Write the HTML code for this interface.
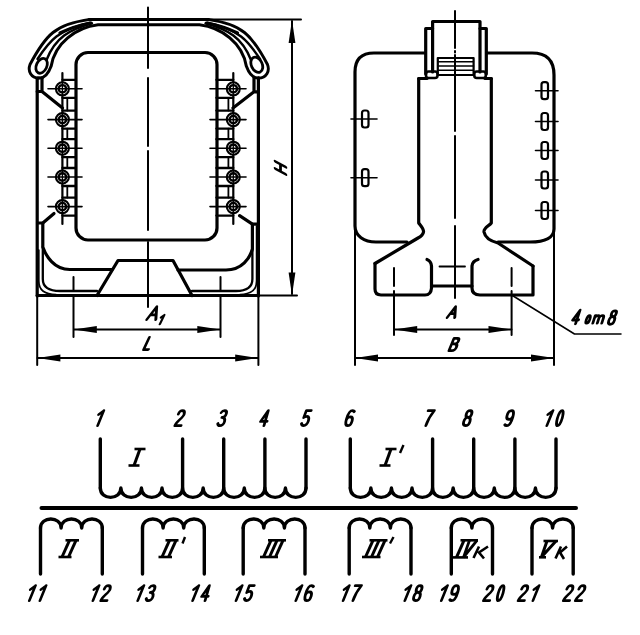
<!DOCTYPE html>
<html><head><meta charset="utf-8"><style>
html,body{margin:0;padding:0;background:#fff;}
svg{display:block;}
text{font-family:"Liberation Sans",sans-serif;font-style:italic;font-weight:bold;font-size:24px;text-anchor:middle;fill:#000;}
</style></head><body>
<svg width="640" height="635" viewBox="0 0 640 635">
<g fill="none" stroke="#000" stroke-linecap="round" stroke-linejoin="round">
<path d="M37.2,78 V296" stroke-width="3.2" />
<path d="M37.2,296 V365" stroke-width="2.0" />
<path d="M258.4,78 V296" stroke-width="3.2" />
<path d="M258.4,296 V365" stroke-width="2.0" />
<path d="M37.2,295.5 H258" stroke-width="3.2" />
<path d="M258,295.5 H297" stroke-width="2.0" />
<path d="M200,19.4 H301" stroke-width="2.0" />
<path d="M292,21 V294" stroke-width="2.0" />
<path d="M292.0,20.0 L288.6,43.0 L295.4,43.0Z" fill="#000" stroke="none"/>
<path d="M292.0,295.5 L295.4,272.5 L288.6,272.5Z" fill="#000" stroke="none"/>
<path d="M148,7.5 V68 M148,78 V146 M148,151 V230 M148,242 V307" stroke-width="2.0" />
<rect x="76" y="52.5" width="141" height="187.5" rx="12" stroke-width="3.2"/>
<path d="M38.9,78 C31,78 27.5,71 30,64.5 C45.8,34.6 55.6,24.1 90,19.4" stroke-width="2.9"/>
<path d="M 258.6 78.0 C 266.5 78.0 270.0 71.0 267.5 64.5 C 251.7 34.6 241.9 24.1 207.5 19.4" stroke-width="2.9"/>
<path d="M89,19.4 H148.5" stroke-width="3"/>
<path d="M 208.5 19.4 H 149.0" stroke-width="3"/>
<path d="M38.9,78 C45,78.5 49,72 51.2,66 C55,43.1 75.8,27.6 98,24.8 H148.5" stroke-width="3"/>
<path d="M 258.6 78.0 C 252.5 78.5 248.5 72.0 246.3 66.0 C 242.5 43.1 221.7 27.6 199.5 24.8 H 149.0" stroke-width="3"/>
<path d="M37.5,59 C50,40 58,30 90,22.6" stroke-width="2.4"/>
<path d="M 260.0 59.0 C 247.5 40.0 239.5 30.0 207.5 22.6" stroke-width="2.4"/>
<path d="M46.5,60 C55.4,37.3 69.5,29.6 92,23.4" stroke-width="2.4"/>
<path d="M 251.0 60.0 C 242.1 37.3 228.0 29.6 205.5 23.4" stroke-width="2.4"/>
<path d="M60,33 C70,28 80,25 91,23" stroke-width="3.2"/>
<path d="M 237.5 33.0 C 227.5 28.0 217.5 25.0 206.5 23.0" stroke-width="3.2"/>
<ellipse cx="41.6" cy="65.8" rx="5.2" ry="7.8" transform="rotate(25 41.6 65.8)" stroke-width="2.8" fill="#fff"/>
<ellipse cx="256.8" cy="64.8" rx="5.4" ry="8" transform="rotate(-25 256.8 64.8)" stroke-width="2.8" fill="#fff"/>
<path d="M42,78 V91.5 L62.5,108 M42,91.5 H37.2" stroke-width="3.2" />
<path d="M254,78 V91.8 L233,108 M254,91.8 H258.4" stroke-width="3.2" />
<path d="M54,213.5 L42.8,223 H37.5" stroke-width="3.2" />
<path d="M239.6,215.7 L252.4,224.2 H258" stroke-width="3.2" />
<path d="M62.4,73 V224" stroke-width="2.2" />
<path d="M62.4,97.8 H75.8 M62.4,110.6 H75.8" stroke-width="2.3" />
<path d="M67.3,97.8 V110.6" stroke-width="1.8" />
<path d="M62.4,128.6 H75.8 M62.4,139.2 H75.8" stroke-width="2.3" />
<path d="M67.3,128.6 V139.2" stroke-width="1.8" />
<path d="M62.4,157.2 H75.8 M62.4,168 H75.8" stroke-width="2.3" />
<path d="M67.3,157.2 V168" stroke-width="1.8" />
<path d="M62.4,186 H75.8 M62.4,197.6 H75.8" stroke-width="2.3" />
<path d="M67.3,186 V197.6" stroke-width="1.8" />
<path d="M62.4,79.8 H75.8" stroke-width="2.3" />
<path d="M62.4,215.6 H75.8" stroke-width="2.3" />
<circle cx="62.4" cy="88.8" r="6.5" stroke-width="2.1" fill="#fff"/>
<circle cx="62.4" cy="88.8" r="3.7" stroke-width="2.4"/>
<path d="M62.4,81.8 V95.8" stroke-width="1.3" />
<circle cx="62.4" cy="119.6" r="6.5" stroke-width="2.1" fill="#fff"/>
<circle cx="62.4" cy="119.6" r="3.7" stroke-width="2.4"/>
<path d="M62.4,112.6 V126.6" stroke-width="1.3" />
<circle cx="62.4" cy="148.2" r="6.5" stroke-width="2.1" fill="#fff"/>
<circle cx="62.4" cy="148.2" r="3.7" stroke-width="2.4"/>
<path d="M62.4,141.2 V155.2" stroke-width="1.3" />
<circle cx="62.4" cy="177" r="6.5" stroke-width="2.1" fill="#fff"/>
<circle cx="62.4" cy="177" r="3.7" stroke-width="2.4"/>
<path d="M62.4,170 V184" stroke-width="1.3" />
<circle cx="62.4" cy="206.6" r="6.5" stroke-width="2.1" fill="#fff"/>
<circle cx="62.4" cy="206.6" r="3.7" stroke-width="2.4"/>
<path d="M62.4,199.6 V213.6" stroke-width="1.3" />
<path d="M233.3,73 V224" stroke-width="2.2" />
<path d="M233.3,97.8 H216.4 M233.3,110.6 H216.4" stroke-width="2.3" />
<path d="M228.4,97.8 V110.6" stroke-width="1.8" />
<path d="M233.3,128.6 H216.4 M233.3,139.2 H216.4" stroke-width="2.3" />
<path d="M228.4,128.6 V139.2" stroke-width="1.8" />
<path d="M233.3,157.2 H216.4 M233.3,168 H216.4" stroke-width="2.3" />
<path d="M228.4,157.2 V168" stroke-width="1.8" />
<path d="M233.3,186 H216.4 M233.3,197.6 H216.4" stroke-width="2.3" />
<path d="M228.4,186 V197.6" stroke-width="1.8" />
<path d="M233.3,79.8 H216.4" stroke-width="2.3" />
<path d="M233.3,215.6 H216.4" stroke-width="2.3" />
<circle cx="233.3" cy="88.8" r="6.5" stroke-width="2.1" fill="#fff"/>
<circle cx="233.3" cy="88.8" r="3.7" stroke-width="2.4"/>
<path d="M233.3,81.8 V95.8" stroke-width="1.3" />
<circle cx="233.3" cy="119.6" r="6.5" stroke-width="2.1" fill="#fff"/>
<circle cx="233.3" cy="119.6" r="3.7" stroke-width="2.4"/>
<path d="M233.3,112.6 V126.6" stroke-width="1.3" />
<circle cx="233.3" cy="148.2" r="6.5" stroke-width="2.1" fill="#fff"/>
<circle cx="233.3" cy="148.2" r="3.7" stroke-width="2.4"/>
<path d="M233.3,141.2 V155.2" stroke-width="1.3" />
<circle cx="233.3" cy="177" r="6.5" stroke-width="2.1" fill="#fff"/>
<circle cx="233.3" cy="177" r="3.7" stroke-width="2.4"/>
<path d="M233.3,170 V184" stroke-width="1.3" />
<circle cx="233.3" cy="206.6" r="6.5" stroke-width="2.1" fill="#fff"/>
<circle cx="233.3" cy="206.6" r="3.7" stroke-width="2.4"/>
<path d="M233.3,199.6 V213.6" stroke-width="1.3" />
<path d="M48,88.8 H82" stroke-width="1.6" />
<path d="M210,88.8 H246" stroke-width="1.6" />
<path d="M48,119.6 H82" stroke-width="1.6" />
<path d="M210,119.6 H246" stroke-width="1.6" />
<path d="M48,148.2 H82" stroke-width="1.6" />
<path d="M210,148.2 H246" stroke-width="1.6" />
<path d="M48,177 H82" stroke-width="1.6" />
<path d="M210,177 H246" stroke-width="1.6" />
<path d="M48,206.6 H82" stroke-width="1.6" />
<path d="M210,206.6 H246" stroke-width="1.6" />
<path d="M42.8,223 V247 C46,256 54,269.5 69.7,269.5 H112" stroke-width="3.2" />
<path d="M252.4,224.2 V249 C250,258 242,270 226,270 H178" stroke-width="3.2" />
<path d="M42.8,247 V279 C42.8,287 48,291 60,291 H97" stroke-width="2.3" />
<path d="M252.4,249 V279 C252.4,287 247,291 236,291 H192" stroke-width="2.3" />
<path d="M38.8,250 V281 C38.8,290 44,294.5 56,294.5" stroke-width="1.7" />
<path d="M256.6,226 V281 C256.6,290 251,294.5 240,294.5" stroke-width="1.7" />
<path d="M97,295.5 L118,260.5 H173 L192,295.5" stroke-width="3.2" />
<path d="M73.5,277 V290 M73.5,296 V337" stroke-width="2.0" />
<path d="M220.5,277 V290 M220.5,296 V337" stroke-width="2.0" />
<path d="M74,329.5 H220" stroke-width="2.0" />
<path d="M73.8,329.5 L96.8,332.9 L96.8,326.1Z" fill="#000" stroke="none"/>
<path d="M220.3,329.5 L197.3,326.1 L197.3,332.9Z" fill="#000" stroke="none"/>
<path d="M37.5,358 H258" stroke-width="2.0" />
<path d="M37.4,358.0 L60.4,361.4 L60.4,354.6Z" fill="#000" stroke="none"/>
<path d="M258.2,358.0 L235.2,354.6 L235.2,361.4Z" fill="#000" stroke="none"/>
<path d="M424.5,53 H374 Q355,53 355,72 V226 C355,236 364,242 376,242 H407" stroke-width="3.2" />
<path d="M355,226 V365" stroke-width="2.0" />
<path d="M486.5,53 H532 Q554,53 554,75 V229 C554,237 546,242 530,242 H498" stroke-width="3.2" />
<path d="M554,229 V365" stroke-width="2.0" />
<path d="M418.7,78.5 V223 C421,226 424,229 423.5,232 C423,235 420,237 418,238 L375,263.5" stroke-width="3.2" />
<path d="M491.3,78.5 V223 C489,226 483.5,228 484,232 C485,237 490,241 498,243 L533,266" stroke-width="3.2" />
<path d="M418.7,78.5 H427 M485,78.5 H491.3" stroke-width="3.2" />
<path d="M375,263.5 V289 Q375,295 381,295 H425 Q431,295 431.5,288 V266 Q431,261 427,259.5" stroke-width="3.2" />
<path d="M533,266 V295 H480 Q472,295 472,288 V266 Q472.5,261 478,259.5" stroke-width="3.2" />
<path d="M431.5,286 H472" stroke-width="3.2" />
<path d="M439.5,266.5 H465" stroke-width="1.8" />
<path d="M432.6,72 V21.5 H480 V72" stroke-width="3.2" />
<path d="M425.7,74 V28.5 H432.6 M480,28.5 H486.3 V74" stroke-width="3.2" />
<rect x="426" y="71.5" width="11.5" height="6.5" rx="2.5" stroke-width="2.6"/>
<rect x="474.3" y="71.5" width="11.5" height="6.5" rx="2.5" stroke-width="2.6"/>
<rect x="437.8" y="58" width="35.8" height="17" stroke-width="2.2"/>
<path d="M438,61.8 H473.5 M438,66 H473.5 M438,70.2 H473.5" stroke-width="1.6" />
<path d="M455,11 V48 M455,51 V52.5 M455,55 V131 M455,136 V218 M455,226 V298" stroke-width="2.0" />
<rect x="362" y="110.5" width="6.5" height="17" rx="2.5" stroke-width="2.2"/>
<path d="M351,119 H377" stroke-width="1.6" />
<rect x="362" y="169.2" width="6.5" height="17" rx="2.5" stroke-width="2.2"/>
<path d="M351,177.7 H377" stroke-width="1.6" />
<rect x="541.5" y="82.2" width="6.5" height="17" rx="2.5" stroke-width="2.2"/>
<path d="M535.5,90.7 H558" stroke-width="1.6" />
<rect x="541.5" y="113.0" width="6.5" height="17" rx="2.5" stroke-width="2.2"/>
<path d="M535.5,121.5 H558" stroke-width="1.6" />
<rect x="541.5" y="142.0" width="6.5" height="17" rx="2.5" stroke-width="2.2"/>
<path d="M535.5,150.5 H558" stroke-width="1.6" />
<rect x="541.5" y="171.5" width="6.5" height="17" rx="2.5" stroke-width="2.2"/>
<path d="M535.5,180 H558" stroke-width="1.6" />
<rect x="541.5" y="202.0" width="6.5" height="17" rx="2.5" stroke-width="2.2"/>
<path d="M535.5,210.5 H558" stroke-width="1.6" />
<path d="M394,268 V286 M394,291 V335" stroke-width="2.0" />
<path d="M511.6,268 V286 M511.6,291 V335" stroke-width="2.0" />
<path d="M394,329.5 H511.5" stroke-width="2.0" />
<path d="M394.2,329.5 L417.2,332.9 L417.2,326.1Z" fill="#000" stroke="none"/>
<path d="M511.5,329.5 L488.5,326.1 L488.5,332.9Z" fill="#000" stroke="none"/>
<path d="M355,358 H553.8" stroke-width="2.0" />
<path d="M355.0,358.0 L378.0,361.4 L378.0,354.6Z" fill="#000" stroke="none"/>
<path d="M554.0,358.0 L531.0,354.6 L531.0,361.4Z" fill="#000" stroke="none"/>
<path d="M511.6,295 L574.5,334 H621" stroke-width="1.5" />
<path d="M100.3,488 C100.3,500.5 120.87,500.5 120.87,488 C120.87,500.5 141.44,500.5 141.44,488 C141.44,500.5 162.01,500.5 162.01,488 C162.01,500.5 182.57999999999998,500.5 182.57999999999998,488 C182.57999999999998,500.5 203.14999999999998,500.5 203.14999999999998,488 C203.14999999999998,500.5 223.71999999999997,500.5 223.71999999999997,488 C223.72,500.5 244.29,500.5 244.29,488 C244.29000000000002,500.5 264.86,500.5 264.86,488 C264.86,500.5 285.43,500.5 285.43,488 C285.43,500.5 306.0,500.5 306.0,488" stroke-width="3.4" />
<path d="M100.3,439 V488" stroke-width="3.4" />
<path d="M182.6,439 V488" stroke-width="3.4" />
<path d="M223.7,439 V488" stroke-width="3.4" />
<path d="M264.9,439 V488" stroke-width="3.4" />
<path d="M306.0,439 V488" stroke-width="3.4" />
<path d="M350.3,488 C350.3,500.5 370.87,500.5 370.87,488 C370.87,500.5 391.44,500.5 391.44,488 C391.44,500.5 412.01,500.5 412.01,488 C412.01,500.5 432.58,500.5 432.58,488 C432.58000000000004,500.5 453.15000000000003,500.5 453.15000000000003,488 C453.15,500.5 473.71999999999997,500.5 473.71999999999997,488 C473.72,500.5 494.29,500.5 494.29,488 C494.29,500.5 514.86,500.5 514.86,488 C514.86,500.5 535.4300000000001,500.5 535.4300000000001,488 C535.4300000000001,500.5 556.0000000000001,500.5 556.0000000000001,488" stroke-width="3.4" />
<path d="M350.3,439 V488" stroke-width="3.4" />
<path d="M432.6,439 V488" stroke-width="3.4" />
<path d="M473.7,439 V488" stroke-width="3.4" />
<path d="M514.9,439 V488" stroke-width="3.4" />
<path d="M556.0,439 V488" stroke-width="3.4" />
<path d="M41.5,508 H576" stroke-width="4.0" />
<path d="M40.5,528 C40.5,516 61.1,516 61.1,528 C61.1,516 81.7,516 81.7,528 C81.7,516 102.30000000000001,516 102.30000000000001,528" stroke-width="3.4" />
<path d="M40.5,528 V574" stroke-width="3.4" />
<path d="M102.3,528 V574" stroke-width="3.4" />
<path d="M142.5,528 C142.5,516 163.1,516 163.1,528 C163.1,516 183.7,516 183.7,528 C183.7,516 204.29999999999998,516 204.29999999999998,528" stroke-width="3.4" />
<path d="M142.5,528 V574" stroke-width="3.4" />
<path d="M204.3,528 V574" stroke-width="3.4" />
<path d="M243.2,528 C243.2,516 263.8,516 263.8,528 C263.8,516 284.40000000000003,516 284.40000000000003,528 C284.4,516 305.0,516 305.0,528" stroke-width="3.4" />
<path d="M243.2,528 V574" stroke-width="3.4" />
<path d="M305.0,528 V574" stroke-width="3.4" />
<path d="M349.2,528 C349.2,516 369.8,516 369.8,528 C369.8,516 390.40000000000003,516 390.40000000000003,528 C390.4,516 411.0,516 411.0,528" stroke-width="3.4" />
<path d="M349.2,528 V574" stroke-width="3.4" />
<path d="M411.0,528 V574" stroke-width="3.4" />
<path d="M451.3,528 C451.3,516 471.90000000000003,516 471.90000000000003,528 C471.90000000000003,516 492.50000000000006,516 492.50000000000006,528" stroke-width="3.4" />
<path d="M451.3,528 V574" stroke-width="3.4" />
<path d="M492.5,528 V574" stroke-width="3.4" />
<path d="M532,528 C532.0,516 552.6,516 552.6,528 C552.6,516 573.2,516 573.2,528" stroke-width="3.4" />
<path d="M532,528 V574" stroke-width="3.4" />
<path d="M573.2,528 V574" stroke-width="3.4" />
</g>
<g fill="none" stroke="#000" stroke-linecap="butt">
<path d="M134.5,449.0 L145.5,449.0" stroke-width="2.6"/>
<path d="M128.5,465.5 L139.5,465.5" stroke-width="2.6"/>
<path d="M140.0,449.0 L134.0,465.5" stroke-width="3.0"/>
<path d="M385.5,449.0 L396.5,449.0" stroke-width="2.6"/>
<path d="M379.5,465.5 L390.5,465.5" stroke-width="2.6"/>
<path d="M391.0,449.0 L385.0,465.5" stroke-width="3.0"/>
<path d="M403.5,445.0 L400.0,453.0" stroke-width="2.4"/>
<path d="M65.5,540.3 L79.0,540.3" stroke-width="2.6"/>
<path d="M58.5,557.0 L71.5,557.0" stroke-width="2.6"/>
<path d="M69.5,540.3 L62.0,557.0" stroke-width="3.0"/>
<path d="M76.0,540.3 L68.5,557.0" stroke-width="3.0"/>
<path d="M165.5,540.3 L178.5,540.3" stroke-width="2.6"/>
<path d="M158.5,557.0 L172.0,557.0" stroke-width="2.6"/>
<path d="M169.5,540.3 L162.0,557.0" stroke-width="3.0"/>
<path d="M176.0,540.3 L168.5,557.0" stroke-width="3.0"/>
<path d="M185.0,537.0 L182.5,543.5" stroke-width="2.4"/>
<path d="M268.0,540.3 L286.0,540.3" stroke-width="2.6"/>
<path d="M260.0,557.0 L278.0,557.0" stroke-width="2.6"/>
<path d="M271.0,540.3 L263.5,557.0" stroke-width="3.0"/>
<path d="M277.0,540.3 L269.5,557.0" stroke-width="3.0"/>
<path d="M283.0,540.3 L275.5,557.0" stroke-width="3.0"/>
<path d="M369.5,540.3 L387.5,540.3" stroke-width="2.6"/>
<path d="M362.0,557.0 L380.5,557.0" stroke-width="2.6"/>
<path d="M373.0,540.3 L365.5,557.0" stroke-width="3.0"/>
<path d="M379.0,540.3 L371.5,557.0" stroke-width="3.0"/>
<path d="M385.0,540.3 L377.5,557.0" stroke-width="3.0"/>
<path d="M393.5,537.0 L390.0,543.5" stroke-width="2.4"/>
<path d="M460.5,540.3 L478.0,540.3" stroke-width="2.6"/>
<path d="M453.0,557.4 L468.0,557.4" stroke-width="2.6"/>
<path d="M464.0,540.3 L456.5,557.4" stroke-width="3.0"/>
<path d="M469.5,540.3 L463.5,557.4 L477,540.3" stroke-width="2.8" stroke-linejoin="miter"/>
<path d="M479,546.5 L473.5,558 M488,546.5 L479,552.5 L484,558.5" stroke-width="2.6"/>
<path d="M543.5,541.0 L558.0,541.0" stroke-width="2.6"/>
<path d="M547,541 L541.5,557 L556,541" stroke-width="3"/>
<path d="M539.0,557.3 L546.0,557.3" stroke-width="2.6"/>
<path d="M561,546.5 L555.5,558.5 M567,546.5 L560,552.5 L564,559" stroke-width="2.6"/>
</g>
<g fill="none" stroke="#000" stroke-linecap="round" stroke-linejoin="round">
<path d="M4.6,-15 L2.8,0 M4.6,-15 L0.6,-11.2" transform="translate(94.85,425.65) skewX(-16)" stroke-width="2.8"/>
<path d="M0.2,-11.5 C0.4,-14.5 2,-15 3.2,-15 C5,-15 6,-13.8 6,-11.5 C6,-8 0.5,-4.5 0,0 H6.2" transform="translate(174.85,425.65) skewX(-16)" stroke-width="2.8"/>
<path d="M0.3,-13 C1,-15 2,-15 3,-15 C5,-15 5.8,-13.5 5.8,-11.8 C5.8,-9.5 4.5,-8.2 2.4,-8.2 C5,-8.2 6.2,-6.5 6.2,-4 C6.2,-1 4.5,0 3,0 C1.5,0 0.5,-0.8 0,-2.2" transform="translate(217.15,425.65) skewX(-16)" stroke-width="2.8"/>
<path d="M4.6,0 V-15 L0,-4.2 H6.5" transform="translate(259.35,425.65) skewX(-16)" stroke-width="2.8"/>
<path d="M6,-15 H1.2 L0.6,-8 C1.5,-9 2.5,-9.3 3.3,-9.3 C5.3,-9.3 6.2,-7.5 6.2,-4.6 C6.2,-1.5 4.8,0 3,0 C1.6,0 0.6,-0.8 0,-2.2" transform="translate(300.85,425.65) skewX(-16)" stroke-width="2.8"/>
<path d="M5.8,-14 C5.2,-14.8 4.4,-15 3.5,-15 C1.2,-15 0,-12 0,-6.5 C0,-2 1.2,0 3.1,0 C5,0 6.2,-1.8 6.2,-4.5 C6.2,-7.2 5,-8.8 3.2,-8.8 C1.5,-8.8 0.3,-7.5 0.1,-5.5" transform="translate(344.55,425.65) skewX(-16)" stroke-width="2.8"/>
<path d="M0,-15 H6.2 C3.8,-10.5 2.2,-5.5 2,0" transform="translate(423.85,425.65) skewX(-16)" stroke-width="2.8"/>
<path d="M3.1,-8.2 C1,-8.2 0.4,-10 0.4,-11.7 C0.4,-13.8 1.5,-15 3.1,-15 C4.7,-15 5.8,-13.8 5.8,-11.7 C5.8,-10 5.2,-8.2 3.1,-8.2 C1,-8.2 0,-6.5 0,-4 C0,-1.3 1.3,0 3.1,0 C4.9,0 6.2,-1.3 6.2,-4 C6.2,-6.5 5.2,-8.2 3.1,-8.2 Z" transform="translate(462.55,425.65) skewX(-16)" stroke-width="2.8"/>
<path d="M0.4,-1 C1,-0.2 1.8,0 2.7,0 C5,0 6.2,-3 6.2,-8.5 C6.2,-13 5,-15 3.1,-15 C1.2,-15 0,-13.2 0,-10.5 C0,-7.8 1.2,-6.2 3,-6.2 C4.7,-6.2 5.9,-7.5 6.1,-9.5" transform="translate(504.15,425.65) skewX(-16)" stroke-width="2.8"/>
<path d="M4.6,-15 L2.8,0 M4.6,-15 L0.6,-11.2" transform="translate(544.05,425.65) skewX(-16)" stroke-width="2.8"/>
<path d="M3,-15 C6.2,-15 6.2,0 3,0 C-0.2,0 -0.2,-15 3,-15 Z" transform="translate(554.65,425.65) skewX(-16)" stroke-width="2.8"/>
<path d="M4.6,-15 L2.8,0 M4.6,-15 L0.6,-11.2" transform="translate(26.55,600.65) skewX(-16)" stroke-width="2.8"/>
<path d="M4.6,-15 L2.8,0 M4.6,-15 L0.6,-11.2" transform="translate(37.15,600.65) skewX(-16)" stroke-width="2.8"/>
<path d="M4.6,-15 L2.8,0 M4.6,-15 L0.6,-11.2" transform="translate(90.15,600.65) skewX(-16)" stroke-width="2.8"/>
<path d="M0.2,-11.5 C0.4,-14.5 2,-15 3.2,-15 C5,-15 6,-13.8 6,-11.5 C6,-8 0.5,-4.5 0,0 H6.2" transform="translate(100.75,600.65) skewX(-16)" stroke-width="2.8"/>
<path d="M4.6,-15 L2.8,0 M4.6,-15 L0.6,-11.2" transform="translate(134.95,600.65) skewX(-16)" stroke-width="2.8"/>
<path d="M0.3,-13 C1,-15 2,-15 3,-15 C5,-15 5.8,-13.5 5.8,-11.8 C5.8,-9.5 4.5,-8.2 2.4,-8.2 C5,-8.2 6.2,-6.5 6.2,-4 C6.2,-1 4.5,0 3,0 C1.5,0 0.5,-0.8 0,-2.2" transform="translate(145.55,600.65) skewX(-16)" stroke-width="2.8"/>
<path d="M4.6,-15 L2.8,0 M4.6,-15 L0.6,-11.2" transform="translate(189.85,600.65) skewX(-16)" stroke-width="2.8"/>
<path d="M4.6,0 V-15 L0,-4.2 H6.5" transform="translate(200.45,600.65) skewX(-16)" stroke-width="2.8"/>
<path d="M4.6,-15 L2.8,0 M4.6,-15 L0.6,-11.2" transform="translate(233.25,600.65) skewX(-16)" stroke-width="2.8"/>
<path d="M6,-15 H1.2 L0.6,-8 C1.5,-9 2.5,-9.3 3.3,-9.3 C5.3,-9.3 6.2,-7.5 6.2,-4.6 C6.2,-1.5 4.8,0 3,0 C1.6,0 0.6,-0.8 0,-2.2" transform="translate(243.85,600.65) skewX(-16)" stroke-width="2.8"/>
<path d="M4.6,-15 L2.8,0 M4.6,-15 L0.6,-11.2" transform="translate(293.05,600.65) skewX(-16)" stroke-width="2.8"/>
<path d="M5.8,-14 C5.2,-14.8 4.4,-15 3.5,-15 C1.2,-15 0,-12 0,-6.5 C0,-2 1.2,0 3.1,0 C5,0 6.2,-1.8 6.2,-4.5 C6.2,-7.2 5,-8.8 3.2,-8.8 C1.5,-8.8 0.3,-7.5 0.1,-5.5" transform="translate(303.65,600.65) skewX(-16)" stroke-width="2.8"/>
<path d="M4.6,-15 L2.8,0 M4.6,-15 L0.6,-11.2" transform="translate(340.35,600.65) skewX(-16)" stroke-width="2.8"/>
<path d="M0,-15 H6.2 C3.8,-10.5 2.2,-5.5 2,0" transform="translate(350.95,600.65) skewX(-16)" stroke-width="2.8"/>
<path d="M4.6,-15 L2.8,0 M4.6,-15 L0.6,-11.2" transform="translate(402.05,600.65) skewX(-16)" stroke-width="2.8"/>
<path d="M3.1,-8.2 C1,-8.2 0.4,-10 0.4,-11.7 C0.4,-13.8 1.5,-15 3.1,-15 C4.7,-15 5.8,-13.8 5.8,-11.7 C5.8,-10 5.2,-8.2 3.1,-8.2 C1,-8.2 0,-6.5 0,-4 C0,-1.3 1.3,0 3.1,0 C4.9,0 6.2,-1.3 6.2,-4 C6.2,-6.5 5.2,-8.2 3.1,-8.2 Z" transform="translate(412.65,600.65) skewX(-16)" stroke-width="2.8"/>
<path d="M4.6,-15 L2.8,0 M4.6,-15 L0.6,-11.2" transform="translate(438.55,600.65) skewX(-16)" stroke-width="2.8"/>
<path d="M0.4,-1 C1,-0.2 1.8,0 2.7,0 C5,0 6.2,-3 6.2,-8.5 C6.2,-13 5,-15 3.1,-15 C1.2,-15 0,-13.2 0,-10.5 C0,-7.8 1.2,-6.2 3,-6.2 C4.7,-6.2 5.9,-7.5 6.1,-9.5" transform="translate(449.15,600.65) skewX(-16)" stroke-width="2.8"/>
<path d="M0.2,-11.5 C0.4,-14.5 2,-15 3.2,-15 C5,-15 6,-13.8 6,-11.5 C6,-8 0.5,-4.5 0,0 H6.2" transform="translate(483.45,600.65) skewX(-16)" stroke-width="2.8"/>
<path d="M3,-15 C6.2,-15 6.2,0 3,0 C-0.2,0 -0.2,-15 3,-15 Z" transform="translate(495.45,600.65) skewX(-16)" stroke-width="2.8"/>
<path d="M0.2,-11.5 C0.4,-14.5 2,-15 3.2,-15 C5,-15 6,-13.8 6,-11.5 C6,-8 0.5,-4.5 0,0 H6.2" transform="translate(518.15,600.65) skewX(-16)" stroke-width="2.8"/>
<path d="M4.6,-15 L2.8,0 M4.6,-15 L0.6,-11.2" transform="translate(530.15,600.65) skewX(-16)" stroke-width="2.8"/>
<path d="M0.2,-11.5 C0.4,-14.5 2,-15 3.2,-15 C5,-15 6,-13.8 6,-11.5 C6,-8 0.5,-4.5 0,0 H6.2" transform="translate(563.35,600.65) skewX(-16)" stroke-width="2.8"/>
<path d="M0.2,-11.5 C0.4,-14.5 2,-15 3.2,-15 C5,-15 6,-13.8 6,-11.5 C6,-8 0.5,-4.5 0,0 H6.2" transform="translate(575.35,600.65) skewX(-16)" stroke-width="2.8"/>
<path d="M0,0 L6,-15 L10.5,0 M2.4,-5.4 H8.9" transform="translate(146.80,319.60) skewX(-20) scale(0.86)" stroke-width="3.26"/>
<path d="M4.6,-15 L2.8,0 M4.6,-15 L0.6,-11.2" transform="translate(158.20,324.10) skewX(-20) scale(0.6)" stroke-width="4.00"/>
<path d="M0.3,-15 L0,0 H6" transform="translate(143.60,349.60) skewX(-24) scale(0.81)" stroke-width="3.46"/>
<path d="M0,0 L6,-15 L10.5,0 M2.4,-5.4 H8.9" transform="translate(447.20,317.60) skewX(-20) scale(0.72)" stroke-width="3.89"/>
<path d="M0,0 V-15 H4 C6.2,-15 7,-13.8 7,-11.7 C7,-9.6 5.8,-8.3 3.8,-8.3 H0 M3.8,-8.3 C6.4,-8.3 7.5,-6.6 7.5,-4.2 C7.5,-1.5 6,0 3.8,0 H0" transform="translate(449.00,350.60) skewX(-22) scale(0.81)" stroke-width="3.46"/>
<path d="M0,0 V-15 M10,0 V-15 M0,-7.5 H10" transform="translate(285.90,174.30) rotate(-90) skewX(-28) scale(0.72)" stroke-width="3.89"/>
<path d="M4.6,0 V-15 L0,-4.2 H6.5" transform="translate(571.40,323.80) skewX(-18) scale(0.907)" stroke-width="3.09"/>
<path d="M2.8,-9.5 C5.6,-9.5 5.6,0 2.8,0 C0,0 0,-9.5 2.8,-9.5 Z" transform="translate(584.60,323.20) skewX(-18) scale(0.8)" stroke-width="3.50"/>
<path d="M0,-9.5 V0 M0,-6 C0.3,-8.8 2,-9.5 3.4,-9.5 C4.9,-9.5 5.6,-8.5 5.6,-6.5 V0 M5.6,-6.5 C5.9,-8.8 7.5,-9.5 8.9,-9.5 C10.4,-9.5 11.2,-8.5 11.2,-6.5 V0" transform="translate(592.80,323.20) skewX(-18) scale(0.8)" stroke-width="3.50"/>
<path d="M3.1,-8.5 C1,-8.5 0.5,-10.5 0.5,-12 C0.5,-14 1.6,-15 3.1,-15 C4.6,-15 5.7,-14 5.7,-12 C5.7,-10.5 5.2,-8.5 3.1,-8.5 C1,-8.5 0,-6.7 0,-4.2 C0,-1.3 1.3,0 3.1,0 C4.9,0 6.2,-1.3 6.2,-4.2 C6.2,-6.7 5.2,-8.5 3.1,-8.5 Z" transform="translate(607.60,324.30) skewX(-18) scale(0.9)" stroke-width="3.11"/>
</g>
<g>

</g>
</svg>
</body></html>
